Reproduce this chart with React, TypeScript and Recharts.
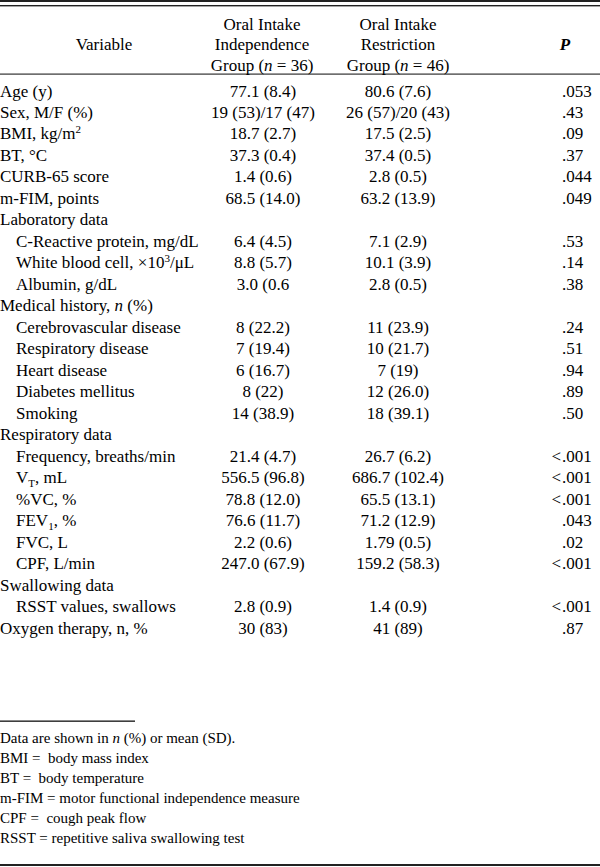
import React from 'react';
import { ComposedChart, Scatter, XAxis, YAxis, Customized } from 'recharts';

// ---- data ----
const variables: string[] = [
  'Age (y)',
  'Sex, M/F (%)',
  'BMI, kg/m^{2}',
  'BT, °C',
  'CURB-65 score',
  'm-FIM, points',
  'Laboratory data',
  'C-Reactive protein, mg/dL',
  'White blood cell, ×10^{3}/μL',
  'Albumin, g/dL',
  'Medical history, *n* (%)',
  'Cerebrovascular disease',
  'Respiratory disease',
  'Heart disease',
  'Diabetes mellitus',
  'Smoking',
  'Respiratory data',
  'Frequency, breaths/min',
  'V_{T}, mL',
  '%VC, %',
  'FEV_{1}, %',
  'FVC, L',
  'CPF, L/min',
  'Swallowing data',
  'RSST values, swallows',
  'Oxygen therapy, n, %',
];
const indented: boolean[] = [
  false, false, false, false, false, false,
  false, true, true, true,
  false, true, true, true, true, true,
  false, true, true, true, true, true, true,
  false, true,
  false,
];
const independenceGroup: string[] = [
  '77.1 (8.4)', '19 (53)/17 (47)', '18.7 (2.7)', '37.3 (0.4)', '1.4 (0.6)', '68.5 (14.0)',
  '', '6.4 (4.5)', '8.8 (5.7)', '3.0 (0.6',
  '', '8 (22.2)', '7 (19.4)', '6 (16.7)', '8 (22)', '14 (38.9)',
  '', '21.4 (4.7)', '556.5 (96.8)', '78.8 (12.0)', '76.6 (11.7)', '2.2 (0.6)', '247.0 (67.9)',
  '', '2.8 (0.9)',
  '30 (83)',
];
const restrictionGroup: string[] = [
  '80.6 (7.6)', '26 (57)/20 (43)', '17.5 (2.5)', '37.4 (0.5)', '2.8 (0.5)', '63.2 (13.9)',
  '', '7.1 (2.9)', '10.1 (3.9)', '2.8 (0.5)',
  '', '11 (23.9)', '10 (21.7)', '7 (19)', '12 (26.0)', '18 (39.1)',
  '', '26.7 (6.2)', '686.7 (102.4)', '65.5 (13.1)', '71.2 (12.9)', '1.79 (0.5)', '159.2 (58.3)',
  '', '1.4 (0.9)',
  '41 (89)',
];
const pValues: string[] = [
  '.053', '.43', '.09', '.37', '.044', '.049',
  '', '.53', '.14', '.38',
  '', '.24', '.51', '.94', '.89', '.50',
  '', '<.001', '<.001', '<.001', '.043', '.02', '<.001',
  '', '<.001',
  '.87',
];
const headerVariable = 'Variable';
const headerIndependence = ['Oral Intake', 'Independence', 'Group (*n* = 36)'];
const headerRestriction = ['Oral Intake', 'Restriction', 'Group (*n* = 46)'];
const headerP = 'P';
const footnotes: string[] = [
  'Data are shown in *n* (%) or mean (SD).',
  'BMI =  body mass index',
  'BT =  body temperature',
  'm-FIM = motor functional independence measure',
  'CPF =  cough peak flow',
  'RSST = repetitive saliva swallowing test',
];

// ---- layout constants ----
const W = 600;
const H = 867;
const FONT = '"Liberation Serif", "Times New Roman", serif';
const FS = 17;
const FN = 15;
const BASE = 0.34;
const COL_VAR = 0;
const COL_IND = 263;
const COL_RES = 398;
const COL_P = 562;
const ROW_TOP = 80;
const ROW_H = 21.48;
const N = variables.length;

// rich text: ^{sup}, _{sub}, *italic*
function rich(s: string, fs: number) {
  const parts: React.ReactNode[] = [];
  const re = /(\^\{[^}]*\}|_\{[^}]*\}|\*[^*]*\*)/g;
  let last = 0;
  let m: RegExpExecArray | null;
  let k = 0;
  let shift = 0;
  const back = () => (shift !== 0 ? -shift : undefined);
  while ((m = re.exec(s))) {
    if (m.index > last) {
      parts.push(<tspan key={k++} dy={back()}>{s.slice(last, m.index)}</tspan>);
      shift = 0;
    }
    const tok = m[0];
    if (tok.startsWith('^')) {
      const d = -fs * 0.4;
      parts.push(<tspan key={k++} dy={d - shift} fontSize={fs * 0.65}>{tok.slice(2, -1)}</tspan>);
      shift = d;
    } else if (tok.startsWith('_')) {
      const d = fs * 0.25;
      parts.push(<tspan key={k++} dy={d - shift} fontSize={fs * 0.65}>{tok.slice(2, -1)}</tspan>);
      shift = d;
    } else {
      parts.push(<tspan key={k++} dy={back()} fontStyle="italic">{tok.slice(1, -1)}</tspan>);
      shift = 0;
    }
    last = m.index + tok.length;
  }
  if (last < s.length) {
    parts.push(<tspan key={k++} dy={back()}>{s.slice(last)}</tspan>);
  }
  return parts;
}

const varData = variables.map((t, i) => ({ col: COL_VAR, row: i, text: t, indent: indented[i] }));
const indData = independenceGroup.map((t, i) => ({ col: COL_IND, row: i, text: t }));
const resData = restrictionGroup.map((t, i) => ({ col: COL_RES, row: i, text: t }));
const pData = pValues.map((t, i) => ({ col: COL_P, row: i, text: t }));

const txt = { fontFamily: FONT, fontSize: FS, fill: '#000', xmlSpace: 'preserve', style: { whiteSpace: 'pre' as const } };

const VarShape = (props: any) => {
  const { cx, cy, payload } = props;
  return (
    <text x={cx + (payload.indent ? 16 : 0)} y={cy + FS * BASE} {...txt}>
      {rich(payload.text, FS)}
    </text>
  );
};
const CenterShape = (props: any) => {
  const { cx, cy, payload } = props;
  if (!payload.text) return <g />;
  return (
    <text x={cx} y={cy + FS * BASE} textAnchor="middle" {...txt}>
      {payload.text}
    </text>
  );
};
const PShape = (props: any) => {
  const { cx, cy, payload } = props;
  if (!payload.text) return <g />;
  const t: string = payload.text;
  const y = cy + FS * BASE;
  if (t.startsWith('<')) {
    return (
      <g>
        <text x={cx - 1} y={y} textAnchor="end" {...txt}>&lt;</text>
        <text x={cx} y={y} {...txt}>{t.slice(1)}</text>
      </g>
    );
  }
  return (
    <text x={cx} y={y} {...txt}>{t}</text>
  );
};

const Frame = () => {
  const hy = [24, 44.5, 65].map((v) => v + FS * BASE);
  return (
    <g fontFamily={FONT} fontSize={FS} fill="#000" style={{ whiteSpace: 'pre' }}>
      <rect x={0} y={0} width={W} height={2} fill="#222" />
      <rect x={0} y={5} width={W} height={1.4} fill="#222" />
      <rect x={0} y={73.5} width={W} height={1.2} fill="#333" />
      <text x={104} y={hy[1]} textAnchor="middle" xmlSpace="preserve">{headerVariable}</text>
      {headerIndependence.map((t, i) => (
        <text key={'a' + i} x={COL_IND - 1} y={hy[i]} textAnchor="middle" xmlSpace="preserve">{rich(t, FS)}</text>
      ))}
      {headerRestriction.map((t, i) => (
        <text key={'b' + i} x={COL_RES} y={hy[i]} textAnchor="middle" xmlSpace="preserve">{rich(t, FS)}</text>
      ))}
      <text x={COL_P + 3} y={hy[1]} textAnchor="middle" fontStyle="italic" fontWeight="bold">{headerP}</text>
      <rect x={0} y={720.5} width={135} height={1.3} fill="#111" />
      {footnotes.map((t, i) => (
        <text key={'f' + i} x={0} y={738 + i * 20 + FN * BASE} fontSize={FN} xmlSpace="preserve">{rich(t, FN)}</text>
      ))}
      <rect x={0} y={864} width={W} height={2} fill="#222" />
    </g>
  );
};

export default function App() {
  return (
    <div style={{ position: 'absolute', left: 0, top: 0, width: W, height: H, background: '#fff' }}>
      <ComposedChart
        width={W}
        height={H}
        margin={{ top: ROW_TOP, right: 0, bottom: H - ROW_TOP - N * ROW_H, left: 0 }}
      >
        <XAxis type="number" dataKey="col" domain={[0, W]} hide />
        <YAxis type="number" dataKey="row" domain={[-0.5, N - 0.5]} reversed hide />
        <Customized component={Frame} />
        <Scatter data={varData} shape={VarShape} isAnimationActive={false} />
        <Scatter data={indData} shape={CenterShape} isAnimationActive={false} />
        <Scatter data={resData} shape={CenterShape} isAnimationActive={false} />
        <Scatter data={pData} shape={PShape} isAnimationActive={false} />
      </ComposedChart>
    </div>
  );
}
